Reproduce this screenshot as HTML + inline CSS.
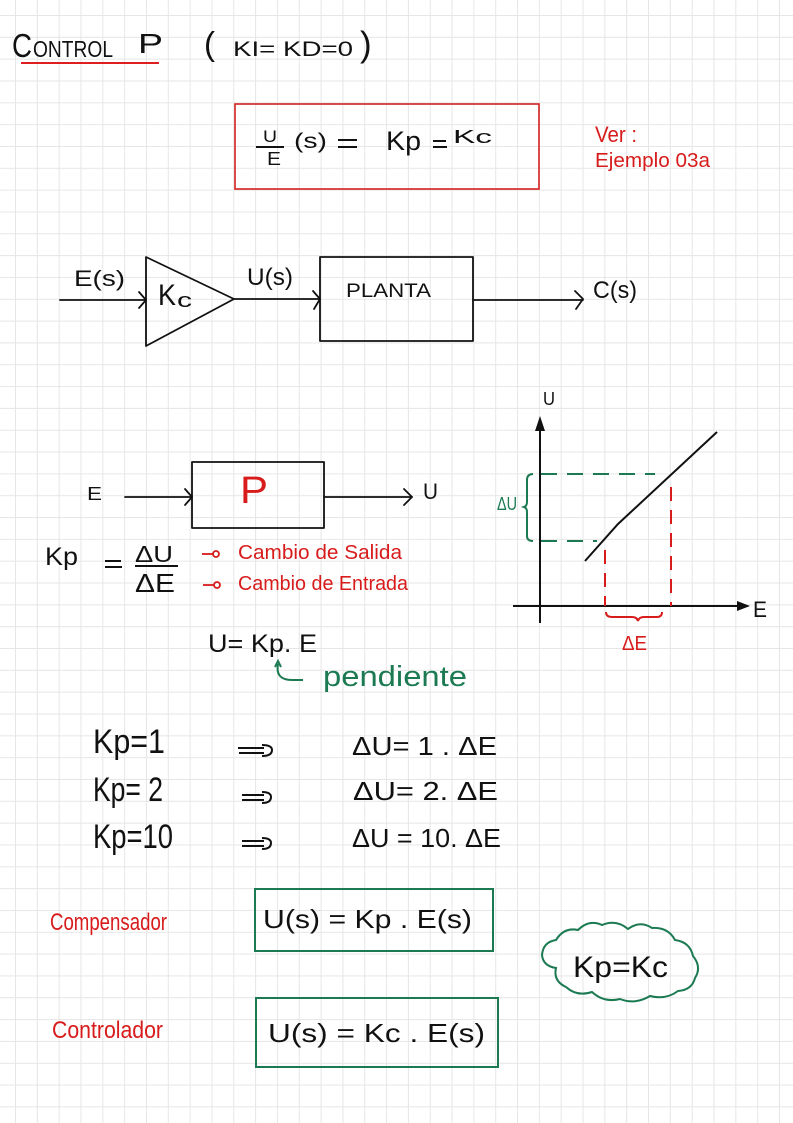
<!DOCTYPE html>
<html><head><meta charset="utf-8">
<style>
html,body{margin:0;padding:0;}
body{width:793px;height:1123px;overflow:hidden;background-color:#fff;
background-image:linear-gradient(to right,#e6e6e6 1px,transparent 1px),linear-gradient(to bottom,#e6e6e6 1px,transparent 1px);
background-size:21.83px 21.83px;background-position:15px 15px;}
svg{position:absolute;left:0;top:0;}
text{font-family:"Liberation Sans",sans-serif;}
</style></head><body>
<svg width="793" height="1123" viewBox="0 0 793 1123" xmlns="http://www.w3.org/2000/svg">
<g fill="#111">
<!-- Title -->
<text x="12" y="57" font-size="33" textLength="20" lengthAdjust="spacingAndGlyphs">C</text>
<text x="33" y="57" font-size="23" textLength="80" lengthAdjust="spacingAndGlyphs">ONTROL</text>
<text x="138" y="53" font-size="28" textLength="25" lengthAdjust="spacingAndGlyphs">P</text>
<text x="204" y="55" font-size="33">(</text>
<text x="233" y="56" font-size="21" textLength="120" lengthAdjust="spacingAndGlyphs">KI= KD=0</text>
<text x="360" y="56" font-size="35">)</text>
</g>
<line x1="21" y1="63" x2="159" y2="63" stroke="#dd1f1f" stroke-width="2"/>

<!-- red box -->
<rect x="235" y="104" width="304" height="85" fill="none" stroke="#d42020" stroke-width="1.6"/>
<g fill="#111">
<text x="263" y="142" font-size="17" textLength="14" lengthAdjust="spacingAndGlyphs">U</text>
<text x="267" y="165" font-size="18" textLength="14" lengthAdjust="spacingAndGlyphs">E</text>
<text x="294" y="148" font-size="21" textLength="33" lengthAdjust="spacingAndGlyphs">(s)</text>
<text x="386" y="150" font-size="27" textLength="35" lengthAdjust="spacingAndGlyphs">Kp</text>
<text x="453" y="143" font-size="18" textLength="39" lengthAdjust="spacingAndGlyphs">Kc</text>
</g>
<g stroke="#111" stroke-width="2" fill="none">
<line x1="256" y1="147" x2="284" y2="147"/>
<line x1="338" y1="140" x2="357" y2="140"/><line x1="338" y1="147" x2="357" y2="147"/>
<line x1="433" y1="141" x2="446" y2="141"/><line x1="433" y1="147" x2="447" y2="147"/>
</g>
<g fill="#d81b1b">
<text x="595" y="142" font-size="22" textLength="42" lengthAdjust="spacingAndGlyphs">Ver :</text>
<text x="595" y="167" font-size="20" textLength="115" lengthAdjust="spacingAndGlyphs">Ejemplo 03a</text>
</g>

<!-- Block diagram -->
<g stroke="#111" stroke-width="1.8" fill="none" stroke-linejoin="round" stroke-linecap="round">
<line x1="60" y1="300" x2="146" y2="300"/>
<polyline points="139,292 146,300 139,308"/>
<polygon points="146,257 234,299 146,346"/>
<line x1="234" y1="299" x2="320" y2="299"/>
<polyline points="313,291 320,299 314,309"/>
<rect x="320" y="257" width="153" height="84"/>
<line x1="473" y1="300" x2="583" y2="300"/>
<polyline points="575,291 583,299 576,309"/>
</g>
<g fill="#111">
<text x="74" y="286" font-size="22" textLength="51" lengthAdjust="spacingAndGlyphs">E(s)</text>
<text x="158" y="305" font-size="30" textLength="18" lengthAdjust="spacingAndGlyphs">K</text>
<text x="177" y="307" font-size="20" textLength="15" lengthAdjust="spacingAndGlyphs">c</text>
<text x="247" y="285" font-size="24" textLength="46" lengthAdjust="spacingAndGlyphs">U(s)</text>
<text x="346" y="297" font-size="19" textLength="85" lengthAdjust="spacingAndGlyphs">PLANTA</text>
<text x="593" y="298" font-size="24" textLength="44" lengthAdjust="spacingAndGlyphs">C(s)</text>
</g>

<!-- P block -->
<g stroke="#111" stroke-width="1.8" fill="none" stroke-linejoin="round" stroke-linecap="round">
<line x1="125" y1="497" x2="192" y2="497"/>
<polyline points="185,489 192,497 185,505"/>
<rect x="192" y="462" width="132" height="66"/>
<line x1="324" y1="497" x2="412" y2="497"/>
<polyline points="404,489 412,497 404,505"/>
</g>
<g fill="#111">
<text x="87" y="500" font-size="18" textLength="15" lengthAdjust="spacingAndGlyphs">E</text>
<text x="423" y="499" font-size="22" textLength="15" lengthAdjust="spacingAndGlyphs">U</text>
</g>
<text x="240" y="503" font-size="38" fill="#d81b1b" textLength="28" lengthAdjust="spacingAndGlyphs">P</text>

<!-- Kp formula -->
<g fill="#111">
<text x="45" y="565" font-size="25" textLength="33" lengthAdjust="spacingAndGlyphs">Kp</text>
<text x="135" y="562" font-size="23" textLength="38" lengthAdjust="spacingAndGlyphs">ΔU</text>
<text x="135" y="592" font-size="26" textLength="40" lengthAdjust="spacingAndGlyphs">ΔE</text>
</g>
<g stroke="#111" stroke-width="2" fill="none">
<line x1="105" y1="561" x2="121" y2="561"/><line x1="105" y1="567" x2="122" y2="567"/>
<line x1="135" y1="566" x2="178" y2="566"/>
</g>
<g stroke="#d81b1b" stroke-width="1.8" fill="none">
<line x1="202" y1="554" x2="213" y2="554"/><circle cx="216" cy="554" r="3"/>
<line x1="203" y1="585" x2="214" y2="585"/><circle cx="217" cy="585" r="3"/>
</g>
<g fill="#d81b1b">
<text x="238" y="559" font-size="20" textLength="164" lengthAdjust="spacingAndGlyphs">Cambio de Salida</text>
<text x="238" y="590" font-size="20" textLength="170" lengthAdjust="spacingAndGlyphs">Cambio de Entrada</text>
</g>

<!-- U = Kp.E -->
<text x="208" y="652" font-size="25" fill="#111" textLength="109" lengthAdjust="spacingAndGlyphs">U= Kp. E</text>
<path d="M278,664 Q275,680 292,680 L303,680" stroke="#1b7a52" stroke-width="2" fill="none"/>
<path d="M275,667 L278,661 L281,667" stroke="#1b7a52" stroke-width="2" fill="none"/>
<text x="323" y="686" font-size="29" fill="#1b7a52" textLength="144" lengthAdjust="spacingAndGlyphs">pendiente</text>

<!-- Graph -->
<g stroke="#111" stroke-width="2" fill="none">
<line x1="540" y1="428" x2="540" y2="623"/>
<line x1="513" y1="606" x2="738" y2="606"/>
<polyline points="585,561 618,524 717,432"/>
</g>
<polygon points="540,416 535,431 545,431" fill="#111"/>
<polygon points="750,606 737,601 737,611" fill="#111"/>
<g fill="#111">
<text x="543" y="405" font-size="18" textLength="12" lengthAdjust="spacingAndGlyphs">U</text>
<text x="753" y="617" font-size="22" textLength="14" lengthAdjust="spacingAndGlyphs">E</text>
</g>
<g stroke="#1b7a52" stroke-width="2" fill="none">
<line x1="541" y1="474" x2="655" y2="474" stroke-dasharray="16 10"/>
<line x1="541" y1="541" x2="597" y2="541" stroke-dasharray="16 10"/>
<path d="M533,474 Q527,474 527,480 L527,502 Q527,506 524,507 Q527,508 527,512 L527,536 Q527,541 533,541"/>
</g>
<text x="497" y="510" font-size="18" fill="#1b7a52" textLength="20" lengthAdjust="spacingAndGlyphs">ΔU</text>
<g stroke="#d81b1b" stroke-width="2" fill="none">
<line x1="605" y1="550" x2="605" y2="606" stroke-dasharray="14 9"/>
<line x1="671" y1="487" x2="671" y2="606" stroke-dasharray="14 9"/>
<path d="M606,612 Q606,617 612,617 L632,617 Q637,617 638,621 Q639,617 644,617 L657,617 Q662,617 662,612"/>
</g>
<text x="622" y="650" font-size="20" fill="#d81b1b" textLength="25" lengthAdjust="spacingAndGlyphs">ΔE</text>

<!-- Kp rows -->
<g fill="#111">
<text x="93" y="753" font-size="34" textLength="72" lengthAdjust="spacingAndGlyphs">Kp=1</text>
<text x="93" y="801" font-size="34" textLength="70" lengthAdjust="spacingAndGlyphs">Kp= 2</text>
<text x="93" y="848" font-size="34" textLength="80" lengthAdjust="spacingAndGlyphs">Kp=10</text>
<text x="352" y="755" font-size="26" textLength="145" lengthAdjust="spacingAndGlyphs">ΔU= 1 . ΔE</text>
<text x="353" y="800" font-size="26" textLength="145" lengthAdjust="spacingAndGlyphs">ΔU= 2. ΔE</text>
<text x="352" y="847" font-size="26" textLength="149" lengthAdjust="spacingAndGlyphs">ΔU = 10. ΔE</text>
</g>
<g stroke="#111" stroke-width="2" fill="none">
<path d="M238,748 H264 M239,753 H264 M262,745 Q272,745 272,750 Q272,756 262,756"/>
<path d="M242,795 H264 M242,800 H264 M262,792 Q271,792 271,797 Q271,803 262,803"/>
<path d="M242,841 H264 M242,846 H264 M262,838 Q271,838 271,843 Q271,849 262,849"/>
</g>

<!-- Bottom -->
<g fill="#d81b1b">
<text x="50" y="930" font-size="24" textLength="117" lengthAdjust="spacingAndGlyphs">Compensador</text>
<text x="52" y="1038" font-size="24" textLength="111" lengthAdjust="spacingAndGlyphs">Controlador</text>
</g>
<g stroke="#1b7a52" stroke-width="2" fill="none">
<rect x="255" y="889" width="238" height="62"/>
<rect x="256" y="998" width="242" height="69"/>
<path d="M542,955 Q543,942 556,940 Q564,927 578,930 Q589,919 602,925 Q616,919 628,929 Q640,920 652,928 Q668,927 675,940 Q690,942 693,956 Q702,967 695,978 Q692,990 678,991 Q666,1000 650,996 Q635,1005 620,999 Q604,1003 592,992 Q577,997 566,987 Q553,981 556,968 Q543,966 542,955 Z"/>
</g>
<g fill="#111">
<text x="263" y="928" font-size="26" textLength="209" lengthAdjust="spacingAndGlyphs">U(s) = Kp . E(s)</text>
<text x="268" y="1042" font-size="26" textLength="217" lengthAdjust="spacingAndGlyphs">U(s) = Kc . E(s)</text>
<text x="573" y="977" font-size="30" textLength="95" lengthAdjust="spacingAndGlyphs">Kp=Kc</text>
</g>
</svg>
</body></html>
